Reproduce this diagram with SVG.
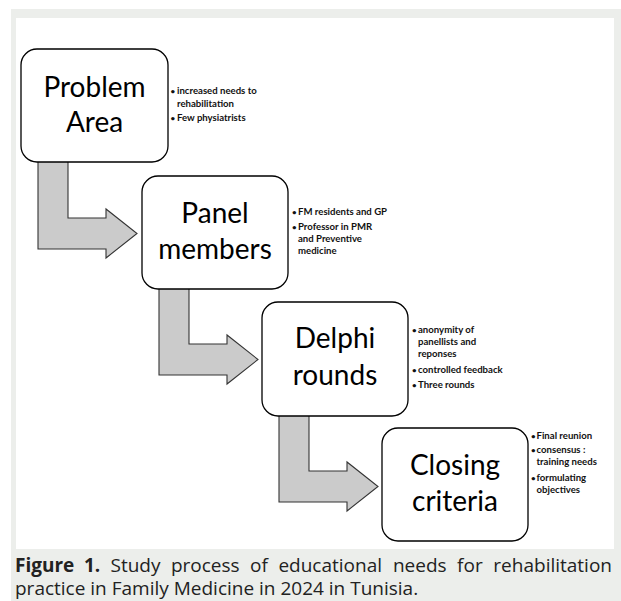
<svg xmlns="http://www.w3.org/2000/svg" width="621" height="601" viewBox="0 0 621 601">
<style>
.box{fill:#fff;stroke:#000;stroke-width:1.3}
.arrow{fill:#cbcbcb;stroke:#333;stroke-width:1.1;stroke-linejoin:miter}
.title{font-family:Lato,"Open Sans",sans-serif;font-size:28px;fill:#000;text-anchor:middle}
.bul{font-family:Lato,"Open Sans",sans-serif;font-size:9.6px;font-weight:bold;fill:#111}
.dot{font-family:Lato,"Open Sans",sans-serif;font-size:8px;font-weight:bold;fill:#111}
.cap{font-family:"Open Sans","Noto Sans",sans-serif;font-size:19px;fill:#222}
.capb{font-weight:bold}
</style>
<rect x="0" y="0" width="621" height="601" fill="#fff"/>
<rect x="11" y="9" width="610" height="592" fill="#eceeeb"/>
<rect x="16" y="18" width="598" height="531" fill="#fff"/>
<g id="connectors">
<path class="arrow" d="M38,160 L68,160 L68,218 L106,218 L106,209 L137,233.5 L106,258 L106,249 L38,249 Z"/>
<path class="arrow" transform="translate(121,126)" d="M38,160 L68,160 L68,218 L106,218 L106,209 L137,233.5 L106,258 L106,249 L38,249 Z"/>
<path class="arrow" transform="translate(241,253)" d="M38,160 L68,160 L68,218 L106,218 L106,209 L137,233.5 L106,258 L106,249 L38,249 Z"/>
</g>
<g id="problem-area">
<rect class="box" x="21" y="49" width="147" height="113" rx="16"/>
<text class="title" x="94.5" y="97">Problem</text>
<text class="title" x="94.5" y="132">Area</text>
<text class="dot" x="170.5" y="94">•</text>
<text class="bul" x="177" y="94">increased needs to</text>
<text class="bul" x="177" y="107">rehabilitation</text>
<text class="dot" x="170.5" y="121">•</text>
<text class="bul" x="177" y="121">Few physiatrists</text>
</g>
<g id="panel-members">
<rect class="box" x="142" y="176" width="146" height="113" rx="16"/>
<text class="title" x="215" y="223">Panel</text>
<text class="title" x="215" y="259">members</text>
<text class="dot" x="292" y="215">•</text>
<text class="bul" x="298" y="215">FM residents and GP</text>
<text class="dot" x="292" y="230">•</text>
<text class="bul" x="298" y="230">Professor in PMR</text>
<text class="bul" x="298" y="242">and Preventive</text>
<text class="bul" x="298" y="254">medicine</text>
</g>
<g id="delphi-rounds">
<rect class="box" x="262" y="302" width="146" height="114" rx="16"/>
<text class="title" x="335" y="348">Delphi</text>
<text class="title" x="335" y="385">rounds</text>
<text class="dot" x="412" y="333">•</text>
<text class="bul" x="418" y="333">anonymity of</text>
<text class="bul" x="418" y="345">panellists and</text>
<text class="bul" x="418" y="357">reponses</text>
<text class="dot" x="412" y="373">•</text>
<text class="bul" x="418" y="373">controlled feedback</text>
<text class="dot" x="412" y="388">•</text>
<text class="bul" x="418" y="388">Three rounds</text>
</g>
<g id="closing-criteria">
<rect class="box" x="382" y="428" width="146" height="113" rx="16"/>
<text class="title" x="455" y="475">Closing</text>
<text class="title" x="455" y="511">criteria</text>
<text class="dot" x="531" y="439">•</text>
<text class="bul" x="536.5" y="439">Final reunion</text>
<text class="dot" x="531" y="453">•</text>
<text class="bul" x="536.5" y="453">consensus :</text>
<text class="bul" x="536.5" y="465">training needs</text>
<text class="dot" x="531" y="481">•</text>
<text class="bul" x="536.5" y="481">formulating</text>
<text class="bul" x="536.5" y="493">objectives</text>
</g>
<g id="caption">
<text class="cap" y="572"><tspan class="capb" x="15">Figure</tspan><tspan class="capb" x="83.9">1.</tspan><tspan x="110.5">Study</tspan><tspan x="170.9">process</tspan><tspan x="250.1">of</tspan><tspan x="278.4">educational</tspan><tspan x="392.9">needs</tspan><tspan x="457.1">for</tspan></text>
<text class="cap" x="612" y="572" text-anchor="end">rehabilitation</text>
<text class="cap" x="15" y="595">practice in Family Medicine in 2024 in Tunisia.</text>
</g>
</svg>
